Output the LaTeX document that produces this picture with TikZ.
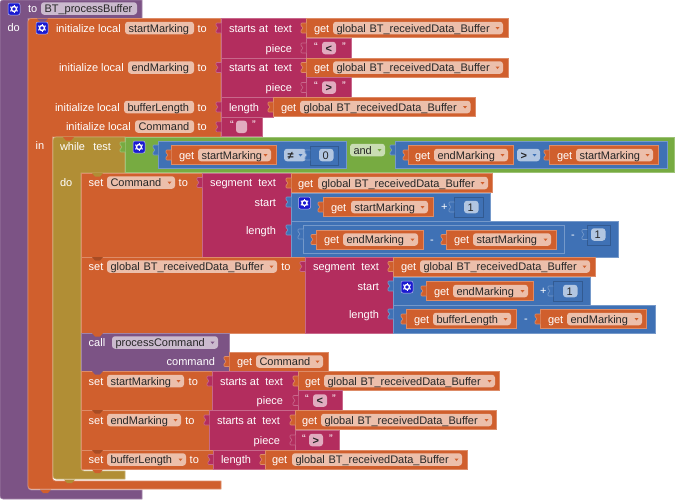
\documentclass[tikz,border=0pt]{standalone}
\usepackage{fontspec}
\setmainfont{Liberation Sans}

\definecolor{procCol}{HTML}{7C5385}
\definecolor{varCol}{HTML}{D05F2D}
\definecolor{ctrlCol}{HTML}{B18E35}
\definecolor{logicCol}{HTML}{77AB41}
\definecolor{mathCol}{HTML}{3F71B5}
\definecolor{textCol}{HTML}{B32D5E}
\definecolor{gearCol}{HTML}{1A1AD0}

\tikzset{
    blk/.style={draw=#1!72!white, fill=#1, line width=0.6pt},
    lab/.style={text=white, inner sep=0pt, outer sep=0pt, anchor=west, text height=9.5pt, text depth=1.5pt},
    labr/.style={lab, anchor=east},
    pillbox/.style={fill=#1, text=black!85, rounded corners=3pt, inner xsep=3.5pt, inner ysep=0pt,
        outer sep=0pt, anchor=west, minimum height=12.5pt, text height=9.5pt, text depth=1.5pt, align=left},
}

% block pieces
\newcommand{\rect}[5]{\draw[blk=#1] (#2,#3) rectangle (#4,#5);}
\newcommand{\tabL}[3]{\draw[blk=#1, rounded corners=0.8pt] (#2+0.3,#3-5) -- (#2-5,#3-5) -- (#2-5,#3-2) -- (#2-3.2,#3-0.8)
    -- (#2-3.2,#3+0.8) -- (#2-5,#3+2) -- (#2-5,#3+5) -- (#2+0.3,#3+5);}
\newcommand{\notch}[3]{\fill[#1] (#2,#3) -- ++(11,0) -- ++(-3,3.5) -- ++(-5,0) -- cycle;}
\newcommand{\cblock}[8]{\draw[blk=#1] (#5,#3) [rounded corners=3pt] -- (#2,#3) -- (#2,#8) [sharp corners] -- (#5,#8) -- (#5,#7)
    [rounded corners=3pt] -- (#4,#7) [sharp corners] -- (#4,#6) -- (#5,#6) -- cycle;}
% pills with text, the second with a dropdown arrow
\newcommand{\pill}[6]{\pgfmathsetmacro\pillw{#3-#2-7}
    \node[pillbox=#6, minimum width={(#3-#2)*1pt}, text width=\pillw pt] (#1) at (#2,#4) {#5};}
\newcommand{\ddpill}[7]{\pill{#1}{#2}{#3}{#4}{#5}{#6}
    \pgfmathsetmacro\arx{#3-5.5}
    \fill[#7] (\arx-2,#4-1) -- (\arx+2,#4-1) -- (\arx,#4+1.5) -- cycle;}
\newcommand{\getblk}[8]{\rect{varCol}{#2}{#7-9.7}{#6}{#7+9.7}
    \tabL{varCol}{#2}{#7}
    \node[lab] (#1) at (#3,#7) {get};
    \ddpill{#1v}{#4}{#5}{#7}{#8}{varCol!40!white}{varCol}}
\newcommand{\textblk}[9]{\rect{textCol}{#3}{#2-9.8}{#4}{#2+9.8}
    \tabL{textCol}{#3}{#2}
    \node[lab] (#1a) at (#5,#2-2) {“};
    \pill{#1}{#6}{#7}{#2}{#8}{textCol!40!white}
    \node[lab] (#1b) at (#9,#2-2) {”};}
\newcommand{\numblk}[7]{\draw[blk=mathCol, draw=mathCol!80!black] (#2,#3) rectangle (#4,#5);
    \tabL{mathCol}{#2}{#6}
    \pgfmathsetmacro\px{#4-4.5-14.5}
    \pill{#1}{\px}{\px+14.5}{#6}{#7}{mathCol!40!white}}
\newcommand{\gear}[2]{\fill[gearCol, draw=white!70!gearCol, line width=0.5pt, rounded corners=2pt] (#1-6,#2-6) rectangle (#1+6,#2+6);
    \draw[white, line width=1.4pt] (#1,#2) circle (2.5pt);
    \foreach \a in {30,90,...,330} \draw[white, line width=1pt] (#1,#2) ++(\a:3pt) -- ++(\a:1.3pt);}

\begin{document}
\begin{tikzpicture}[x=1pt, y=-1pt, every node/.style={font=\fontsize{11}{13}\selectfont}]
    \useasboundingbox (0,0) rectangle (675,499);

    % outer procedure block
    \cblock{procCol}{0}{0}{28}{142}{18.5}{490}{499}
    \gear{14}{9}
    \node[lab] (lblProcTo) at (28,8.5) {to};
    \pill{pillProc}{41}{137}{8.5}{BT\_processBuffer}{procCol!40!white}
    \node[lab] (lblProcDo) at (7.5,27) {do};

    % local variables block
    \cblock{varCol}{28}{18.5}{52.5}{221}{137}{481}{489}
    \notch{procCol}{37}{18.5}
    \gear{42}{28}
    \node[lab] (lblInitA) at (56,28) {initialize local};
    \pill{pillStart}{125}{194}{28}{startMarking}{varCol!40!white}
    \node[lab] (lblToA) at (197.5,28) {to};
    \node[lab] (lblInitB) at (59,67.5) {initialize local};
    \pill{pillEnd}{128}{194}{67.5}{endMarking}{varCol!40!white}
    \node[lab] (lblToB) at (197.5,67.5) {to};
    \node[lab] (lblInitC) at (55,107) {initialize local};
    \pill{pillLen}{124}{194}{107}{bufferLength}{varCol!40!white}
    \node[lab] (lblToC) at (197.5,107) {to};
    \node[lab] (lblInitD) at (66,126.5) {initialize local};
    \pill{pillCmd}{135}{194}{126.5}{Command}{varCol!40!white}
    \node[lab] (lblToD) at (197.5,126.5) {to};
    \node[lab] (lblIn) at (35.7,145) {in};

    % values of the locals
    \rect{textCol}{221}{18.5}{306}{58}
    \tabL{textCol}{221}{28}
    \node[lab] (lblStartsA) at (229,28) {starts at};
    \node[labr] (lblTextA) at (292,28) {text};
    \node[labr] (lblPieceA) at (292,48) {piece};
    \getblk{getA}{306}{314}{333}{503}{508}{28}{global BT\_receivedData\_Buffer}
    \textblk{strA}{48}{306}{351}{314}{322}{336}{\textbf{<}}{342}

    \rect{textCol}{221}{58}{306}{97.5}
    \tabL{textCol}{221}{67.5}
    \node[lab] (lblStartsB) at (229,67.5) {starts at};
    \node[labr] (lblTextB) at (292,67.5) {text};
    \node[labr] (lblPieceB) at (292,87.5) {piece};
    \getblk{getB}{306}{314}{333}{503}{508}{67.5}{global BT\_receivedData\_Buffer}
    \textblk{strB}{87.5}{306}{351}{314}{322}{336}{\textbf{>}}{342}

    \rect{textCol}{221}{97.5}{273}{117}
    \tabL{textCol}{221}{107}
    \node[lab] (lblLenA) at (229,107) {length};
    \getblk{getC}{273}{281}{300}{470.5}{475}{107}{global BT\_receivedData\_Buffer}
    \textblk{strC}{126.8}{221}{262}{230}{236}{247}{}{252}

    % while block with its test
    \cblock{ctrlCol}{53}{137}{81}{125}{173}{471}{479}
    \notch{varCol}{63}{137}
    \node[lab] (lblWhile) at (60,146) {while};
    \node[lab] (lblTest) at (93.3,146) {test};
    \node[lab] (lblWhileDo) at (60,182) {do};
    \rect{logicCol}{125}{137}{674}{172.5}
    \tabL{logicCol}{125}{147}
    \gear{139}{147}
    \ddpill{pillAnd}{350}{385}{150}{and}{logicCol!40!white}{logicCol}
    \rect{mathCol}{158}{141}{346}{168}
    \tabL{mathCol}{158}{150}
    \getblk{getD}{171}{179}{198}{271}{276}{155}{startMarking}
    \ddpill{pillNe}{284}{306}{155}{\textbf{≠}}{mathCol!40!white}{mathCol}
    \numblk{numA}{310}{146}{338}{165}{155}{0}
    \rect{mathCol}{395}{141}{667}{168}
    \tabL{mathCol}{395}{150}
    \getblk{getE}{408}{415}{434}{508}{513}{155}{endMarking}
    \ddpill{pillGt}{517}{540}{155}{\textbf{>}}{mathCol!40!white}{mathCol}
    \getblk{getF}{549}{557}{576}{653}{658}{155}{startMarking}

    % set Command
    \rect{varCol}{81}{173}{202}{257}
    \notch{ctrlCol}{92}{173}
    \node[lab] (lblSetA) at (88.7,182.5) {set};
    \ddpill{pillSetA}{107}{175}{182.5}{Command}{varCol!40!white}{varCol}
    \node[lab] (lblSetToA) at (178.7,182.5) {to};
    \rect{textCol}{202}{173}{291}{257}
    \tabL{textCol}{202}{182.5}
    \node[lab] (lblSegA) at (210,182.5) {segment};
    \node[labr] (lblSegTextA) at (276,182.5) {text};
    \node[labr] (lblSegStartA) at (276,202) {start};
    \node[labr] (lblSegLenA) at (276,230) {length};
    \getblk{getG}{291}{298}{318}{488}{492}{183}{global BT\_receivedData\_Buffer}
    \rect{mathCol}{291}{193}{490}{221}
    \tabL{mathCol}{291}{202}
    \gear{304.5}{203}
    \getblk{getH}{323}{331}{351}{428}{433}{207}{startMarking}
    \node[lab] (lblPlusA) at (441,206) {+};
    \numblk{numB}{454}{197}{483}{217}{207}{1}
    \rect{mathCol}{291}{221}{618}{257}
    \tabL{mathCol}{291}{230}
    \rect{mathCol}{303}{225}{564}{253}
    \tabL{mathCol}{303}{234}
    \getblk{getI}{316}{324}{343}{418}{423}{239.5}{endMarking}
    \node[lab] (lblMinusA) at (430,239) {-};
    \getblk{getJ}{446}{454}{473}{551}{556}{239.5}{startMarking}
    \node[lab] (lblMinusB) at (571,234) {-};
    \numblk{numC}{587}{225}{610}{245}{234.5}{1}

    % set global buffer
    \rect{varCol}{81}{257}{305}{333}
    \notch{varCol!80!black}{92}{257}
    \node[lab] (lblSetB) at (88.7,266.5) {set};
    \ddpill{pillSetB}{107}{277}{266.5}{global BT\_receivedData\_Buffer}{varCol!40!white}{varCol}
    \node[lab] (lblSetToB) at (281.3,266.5) {to};
    \rect{textCol}{305}{257}{393}{333}
    \tabL{textCol}{305}{266.5}
    \node[lab] (lblSegB) at (313,266.5) {segment};
    \node[labr] (lblSegTextB) at (379,266.5) {text};
    \node[labr] (lblSegStartB) at (379,286) {start};
    \node[labr] (lblSegLenB) at (379,314) {length};
    \getblk{getK}{393}{401}{420}{590}{595}{266.5}{global BT\_receivedData\_Buffer}
    \rect{mathCol}{393}{277}{590}{305}
    \tabL{mathCol}{393}{286}
    \gear{407}{287}
    \getblk{getL}{426}{434}{453}{528}{533}{291}{endMarking}
    \node[lab] (lblPlusB) at (540,290) {+};
    \numblk{numD}{553}{281}{582}{301}{291}{1}
    \rect{mathCol}{393}{305}{655}{333}
    \tabL{mathCol}{393}{314}
    \getblk{getM}{406}{414}{433}{511}{516}{319}{bufferLength}
    \node[lab] (lblMinusC) at (524,318) {-};
    \getblk{getN}{540}{548}{567}{642}{646}{319}{endMarking}

    % call processCommand
    \rect{procCol}{81}{333}{229}{371}
    \notch{varCol}{92}{333}
    \node[lab] (lblCall) at (88.7,342.5) {call};
    \ddpill{pillCall}{112}{218}{342.5}{processCommand}{procCol!40!white}{procCol}
    \node[labr] (lblCommand) at (215,361) {command};
    \getblk{getO}{229}{237}{256}{323}{328}{361.5}{Command}

    % set startMarking
    \rect{varCol}{81}{371}{212}{410}
    \notch{procCol}{92}{371}
    \node[lab] (lblSetC) at (88.7,381) {set};
    \ddpill{pillSetC}{107}{184}{381}{startMarking}{varCol!40!white}{varCol}
    \node[lab] (lblSetToC) at (188.7,381) {to};
    \rect{textCol}{212}{371}{298}{410}
    \tabL{textCol}{212}{381}
    \node[lab] (lblStartsC) at (220,381) {starts at};
    \node[labr] (lblTextC) at (283,381) {text};
    \node[labr] (lblPieceC) at (283,400) {piece};
    \getblk{getP}{298}{305}{324}{495}{499}{381}{global BT\_receivedData\_Buffer}
    \textblk{strD}{400.5}{298}{342}{305}{313}{327}{\textbf{<}}{332}

    % set endMarking
    \rect{varCol}{81}{410}{209}{450}
    \notch{varCol!80!black}{92}{410}
    \node[lab] (lblSetD) at (88.7,420) {set};
    \ddpill{pillSetD}{107}{181}{420}{endMarking}{varCol!40!white}{varCol}
    \node[lab] (lblSetToD) at (185.3,420) {to};
    \rect{textCol}{209}{410}{295}{450}
    \tabL{textCol}{209}{420}
    \node[lab] (lblStartsD) at (217,420) {starts at};
    \node[labr] (lblTextD) at (280,420) {text};
    \node[labr] (lblPieceD) at (280,440) {piece};
    \getblk{getQ}{295}{302}{321}{492}{496}{420}{global BT\_receivedData\_Buffer}
    \textblk{strE}{440}{295}{339}{302}{309}{323}{\textbf{>}}{329}

    % set bufferLength
    \rect{varCol}{81}{450}{213}{469}
    \notch{varCol!80!black}{92}{450}
    \node[lab] (lblSetE) at (88.7,459.5) {set};
    \ddpill{pillSetE}{107}{186}{459.5}{bufferLength}{varCol!40!white}{varCol}
    \node[lab] (lblSetToE) at (189.7,459.5) {to};
    \rect{textCol}{213}{450}{265}{469}
    \tabL{textCol}{213}{459.5}
    \node[lab] (lblLenB) at (221,459.5) {length};
    \getblk{getR}{265}{272}{292}{462}{467}{459.5}{global BT\_receivedData\_Buffer}

    % notches below the stacks
    \notch{varCol}{92}{469.5}
    \notch{ctrlCol}{64}{479.5}
    \notch{varCol}{40}{489.5}
\end{tikzpicture}
\end{document}
